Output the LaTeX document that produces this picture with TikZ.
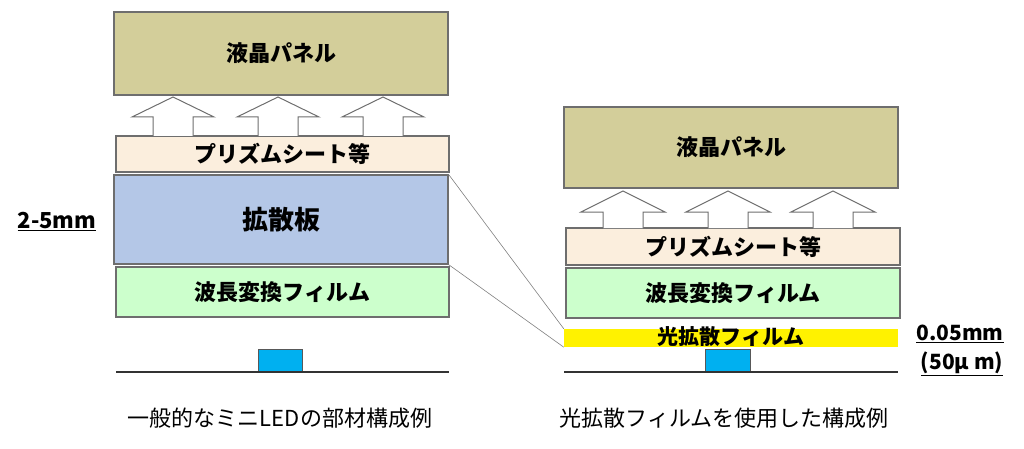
\documentclass[tikz,border=0pt]{standalone}
\usepackage{fontspec}
\setmainfont{Noto Sans CJK JP}
\definecolor{lcd}{HTML}{D3CE9A}
\definecolor{prism}{HTML}{FBEEDD}
\definecolor{diffp}{HTML}{B4C7E7}
\definecolor{wave}{HTML}{CCFFCC}
\definecolor{led}{HTML}{00B0F0}
\definecolor{edge}{HTML}{6E6E6E}
\tikzset{
  layer/.style={draw=edge, line width=1.2pt, inner sep=0pt, font=\bfseries\fontsize{22}{24}\selectfont},
  ledbox/.style={draw=edge!80!black, line width=1pt, fill=led, inner sep=0pt},
  blockarrow/.style={draw=edge, line width=1pt, fill=white, line join=miter},
  base/.style={draw=black!80, line width=1.2pt},
  caption/.style={font=\fontsize{22}{24}\selectfont, inner sep=0pt},
  dim/.style={font=\bfseries\fontsize{21}{23}\selectfont, inner sep=0pt},
  guide/.style={draw=gray, line width=0.6pt}
}
\begin{document}
\begin{tikzpicture}[x=1pt,y=-1pt]
\useasboundingbox (0,0) rectangle (1024,449);
% ---------- left ----------
\node[layer, fill=lcd, minimum width=334pt, minimum height=83pt] (lcdL) at (281,53.5) {液晶パネル};
\node[layer, fill=prism, minimum width=333pt, minimum height=36pt] (prismL) at (282.5,154) {プリズムシート等};
\node[layer, fill=diffp, minimum width=334pt, minimum height=89pt, font=\bfseries\fontsize{26}{28}\selectfont] (diffL) at (281,219.5) {拡散板};
\node[layer, fill=wave, minimum width=333pt, minimum height=50pt] (waveL) at (282.5,292) {波長変換フィルム};
\node[ledbox, minimum width=44pt, minimum height=23pt] (ledL) at (280,360.5) {};
\coordinate (bl1) at (116,372); \coordinate (bl2) at (449,372);
\draw[base] (bl1) -- (bl2);
\foreach \c in {173,278,383}{
  \draw[blockarrow] (\c-20,136) -- (\c-20,117) -- (\c-41,117) -- (\c,97) -- (\c+41,117) -- (\c+20,117) -- (\c+20,136);
}
\node[caption] (capL) at (280,418) {一般的なミニLEDの部材構成例};
\node[dim, font=\bfseries\fontsize{22}{24}\selectfont] (dimL) at (57,222) {\underline{2-5mm}};
% ---------- right ----------
\node[layer, fill=lcd, minimum width=334pt, minimum height=81pt] (lcdR) at (731,147.5) {液晶パネル};
\node[layer, fill=prism, minimum width=334pt, minimum height=37pt] (prismR) at (733,246.5) {プリズムシート等};
\node[layer, fill=wave, minimum width=334pt, minimum height=50pt] (waveR) at (733,293) {波長変換フィルム};
\node[fill=yellow, inner sep=0pt, minimum width=334pt, minimum height=18pt] (diffR) at (731,338) {};
\node[font=\bfseries\fontsize{21}{23}\selectfont, inner sep=0pt] (diffRtext) at (731,337) {光拡散フィルム};
\node[ledbox, minimum width=45pt, minimum height=23pt] (ledR) at (727.5,360.5) {};
\coordinate (br1) at (564,372); \coordinate (br2) at (898,372);
\draw[base] (br1) -- (br2);
\foreach \c in {623,728,833}{
  \draw[blockarrow] (\c-20,228) -- (\c-20,212) -- (\c-42,212) -- (\c,191) -- (\c+42,212) -- (\c+20,212) -- (\c+20,228);
}
\node[caption] (capR) at (724,418) {光拡散フィルムを使用した構成例};
\node[dim] (dimR1) at (960,334) {\underline{0.05mm}};
\node[dim] (dimR2) at (962,364) {\underline{(50μ m)}};
% ---------- guide lines ----------
\draw[guide] (diffL.north east) -- (diffR.north west);
\draw[guide] (diffL.south east) -- (diffR.south west);
\end{tikzpicture}
\end{document}
